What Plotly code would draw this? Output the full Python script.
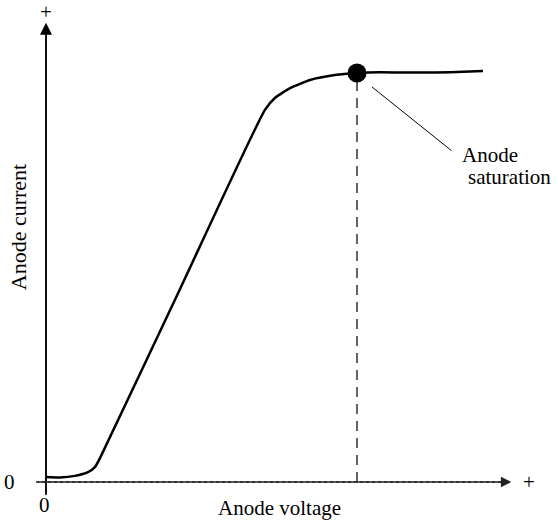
import plotly.graph_objects as go

# Anode characteristic (arbitrary units: saturation point = 100, 100)
voltage = [0, 4.5, 9.3, 13.5, 15.8, 17.4, 43.1, 70.4, 73.6, 78.5, 84.9, 92.9, 100, 107.4, 120.3, 129.9, 140.5]
current = [1.2, 1.1, 1.5, 2.4, 3.7, 5.9, 47.2, 91.0, 93.9, 96.3, 98.3, 99.5, 100, 100.2, 100.1, 100.2, 100.5]
sat_v, sat_i = 100, 100

FONT = "Liberation Serif, Times New Roman, serif"

fig = go.Figure()
fig.add_trace(go.Scatter(x=voltage, y=current, mode="lines",
                         line=dict(color="black", width=2.5, shape="spline", smoothing=0.5),
                         hoverinfo="skip"))
# dashed drop line
fig.add_trace(go.Scatter(x=[sat_v, sat_v], y=[0, sat_i], mode="lines",
                         line=dict(color="#333", width=1.5, dash="10px,7px"), hoverinfo="skip"))
fig.add_trace(go.Scatter(x=[sat_v], y=[sat_i], mode="markers",
                         marker=dict(color="black", size=19), hoverinfo="skip"))

ann = []
# y axis arrow
ann.append(dict(x=0, y=112.3, ax=0, ay=-3.2, xref="x", yref="y", axref="x", ayref="y",
                showarrow=True, arrowhead=2, arrowsize=1.6, arrowwidth=1.5, arrowcolor="black", text=""))
# x axis arrow
ann.append(dict(x=149.6, y=0, ax=-3.2, ay=0, xref="x", yref="y", axref="x", ayref="y",
                showarrow=True, arrowhead=2, arrowsize=1.6, arrowwidth=1.3, arrowcolor="#222", text=""))
# pointer line for annotation
ann.append(dict(x=104.8, y=96.6, ax=130.9, ay=80.7, xref="x", yref="y", axref="x", ayref="y",
                showarrow=True, arrowhead=0, arrowwidth=1, arrowcolor="black", text=""))
ann.append(dict(x=133.1, y=79.9, xref="x", yref="y", text="Anode",
                showarrow=False, xanchor="left", yanchor="middle",
                font=dict(family=FONT, size=21, color="black")))
ann.append(dict(x=135.0, y=74.6, xref="x", yref="y", text="saturation",
                showarrow=False, xanchor="left", yanchor="middle",
                font=dict(family=FONT, size=21, color="black")))
# plus signs
ann.append(dict(x=0, y=115.0, xref="x", yref="y", text="+", showarrow=False,
                font=dict(family=FONT, size=21, color="black")))
ann.append(dict(x=155.2, y=0, xref="x", yref="y", text="+", showarrow=False,
                font=dict(family=FONT, size=21, color="black")))
# zeros
ann.append(dict(x=-11.6, y=0, xref="x", yref="y", text="0", showarrow=False,
                font=dict(family=FONT, size=21, color="black")))
ann.append(dict(x=-0.6, y=-5.6, xref="x", yref="y", text="0", showarrow=False,
                font=dict(family=FONT, size=21, color="black")))
# axis titles
ann.append(dict(x=75.2, y=-6.3, xref="x", yref="y", text="Anode voltage", showarrow=False,
                borderpad=0, font=dict(family=FONT, size=21, color="black")))
ann.append(dict(x=-9.0, y=62.3, xref="x", yref="y", text="Anode current", showarrow=False,
                textangle=-90, font=dict(family=FONT, size=22, color="black")))

fig.update_layout(
    width=558, height=522, margin=dict(l=0, r=0, t=0, b=0),
    paper_bgcolor="white", plot_bgcolor="white", showlegend=False,
    xaxis=dict(range=[-14.79, 164.63], visible=False, fixedrange=True),
    yaxis=dict(range=[-9.78, 117.85], visible=False, fixedrange=True),
    annotations=ann,
)
# axis lines
fig.add_shape(type="line", x0=0, x1=0, y0=-3.2, y1=111, xref="x", yref="y",
              line=dict(color="black", width=1.5))
fig.add_shape(type="line", x0=-3.2, x1=148, y0=0, y1=0, xref="x", yref="y",
              line=dict(color="#222", width=1.3, dash="dot"))

fig.write_html("out.html", config={"displayModeBar": False},
               post_script="document.body.style.margin='0';document.body.style.overflow='hidden';")
